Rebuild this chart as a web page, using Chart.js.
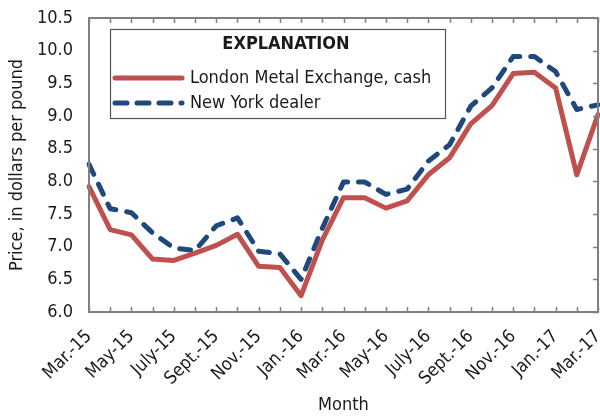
<!DOCTYPE html>
<html>
<head>
<meta charset="utf-8">
<script src="https://cdn.jsdelivr.net/npm/chart.js@4.4.1/dist/chart.umd.min.js"></script>
<style>
  html, body { margin: 0; padding: 0; background: #ffffff; }
  #wrap { width: 600px; height: 416px; position: relative; }
</style>
</head>
<body>
<div id="wrap"><canvas id="c" width="600" height="416"></canvas></div>
<script>
const months = ["Mar.-15","Apr.-15","May-15","June-15","July-15","Aug.-15","Sept.-15","Oct.-15","Nov.-15","Dec.-15",
  "Jan.-16","Feb.-16","Mar.-16","Apr.-16","May-16","June-16","July-16","Aug.-16","Sept.-16","Oct.-16","Nov.-16","Dec.-16",
  "Jan.-17","Feb.-17","Mar.-17"];
const tickLabels = ["Mar.-15","May-15","July-15","Sept.-15","Nov.-15","Jan.-16","Mar.-16","May-16","July-16","Sept.-16","Nov.-16","Jan.-17","Mar.-17"];
const lmeCash = [7.92,7.26,7.18,6.81,6.79,6.90,7.02,7.19,6.70,6.68,6.25,7.10,7.75,7.75,7.59,7.70,8.10,8.36,8.88,9.16,9.65,9.67,9.43,8.10,9.02];
const nyDealer = [8.26,7.58,7.52,7.21,6.98,6.94,7.32,7.44,6.93,6.89,6.50,7.28,7.99,7.99,7.80,7.88,8.31,8.56,9.15,9.43,9.91,9.91,9.68,9.10,9.17];
const seriesNames = ["London Metal Exchange, cash", "New York dealer"];
const legendTitle = "EXPLANATION";

const FONT = "'Liberation Sans Narrow', 'DejaVu Sans Condensed', 'Arial Narrow', sans-serif";
const RED = "#C0504D";
const BLUE = "#1F497D";
const AXIS = "#808080";
const TEXT = "#1a1a1a";

const framePlugin = {
  id: 'frame',
  afterDatasetsDraw(chart) {
    const ctx = chart.ctx;
    const a = chart.chartArea;
    const xs = chart.scales.x, ys = chart.scales.y;
    ctx.save();
    ctx.strokeStyle = AXIS;
    ctx.lineWidth = 1.5;
    ctx.beginPath();
    for (let i = 0; i < months.length; i++) {
      const px = Math.round(xs.getPixelForValue(i)) + 0.5;
      ctx.moveTo(px, a.bottom); ctx.lineTo(px, a.bottom - 5);
      ctx.moveTo(px, a.top); ctx.lineTo(px, a.top + 5);
    }
    ys.ticks.forEach(t => {
      const py = Math.round(ys.getPixelForValue(t.value)) + 0.5;
      ctx.moveTo(a.right, py); ctx.lineTo(a.right - 5, py);
    });
    ctx.stroke();
    ctx.lineWidth = 2;
    ctx.strokeRect(a.left, a.top, a.right - a.left, a.bottom - a.top);

    // legend box
    const bx = a.left + 21, by = a.top + 11, bw = 335, bh = 89;
    ctx.fillStyle = '#ffffff';
    ctx.fillRect(bx, by, bw, bh);
    ctx.strokeStyle = '#555555';
    ctx.lineWidth = 1.2;
    ctx.strokeRect(bx + 0.5, by + 0.5, bw, bh);
    ctx.fillStyle = TEXT;
    ctx.textBaseline = 'middle';
    ctx.textAlign = 'center';
    ctx.font = "bold 18px " + FONT;
    ctx.fillText(legendTitle, bx + 176, by + 15);
    ctx.textAlign = 'left';
    ctx.font = "18px " + FONT;
    const items = [
      { name: seriesNames[0], color: RED, dash: [], y: by + 49 },
      { name: seriesNames[1], color: BLUE, dash: [12, 10], y: by + 74 }
    ];
    items.forEach(it => {
      ctx.save();
      ctx.strokeStyle = it.color;
      ctx.lineWidth = 5;
      ctx.lineCap = 'round';
      ctx.setLineDash(it.dash);
      ctx.beginPath();
      ctx.moveTo(bx + 5, it.y);
      ctx.lineTo(bx + 72, it.y);
      ctx.stroke();
      ctx.restore();
      ctx.fillStyle = TEXT;
      ctx.fillText(it.name, bx + 80, it.y);
    });
    ctx.restore();
  }
};

new Chart(document.getElementById('c'), {
  type: 'line',
  data: {
    labels: months,
    datasets: [
      { label: seriesNames[0], data: lmeCash, borderColor: RED, backgroundColor: RED, borderWidth: 5,
        pointRadius: 0, tension: 0, borderCapStyle: 'round', borderJoinStyle: 'round', fill: false },
      { label: seriesNames[1], data: nyDealer, borderColor: BLUE, backgroundColor: BLUE, borderWidth: 5,
        borderDash: [11, 11], borderCapStyle: 'round', borderJoinStyle: 'round',
        pointRadius: 0, tension: 0, fill: false }
    ]
  },
  options: {
    responsive: false,
    animation: false,
    devicePixelRatio: 1,
    layout: { padding: { top: 18, right: 2, left: 0, bottom: 0 } },
    plugins: { legend: { display: false }, tooltip: { enabled: false } },
    scales: {
      x: {
        type: 'category',
        offset: false,
        grid: { display: false, drawTicks: false },
        border: { display: false },
        ticks: {
          autoSkip: false, maxRotation: 45, minRotation: 45, padding: 14,
          color: TEXT, font: { family: FONT, size: 18 },
          callback: function(v, i) { return tickLabels.includes(months[i]) ? months[i] : ''; }
        },
        title: { display: true, text: 'Month', color: TEXT, font: { family: FONT, size: 18 }, padding: { top: 8, bottom: 0 } },
        afterFit: s => { s.height = 104; s.paddingLeft = 0; s.paddingRight = 0; }
      },
      y: {
        min: 6, max: 10.5,
        grid: { display: false, drawTicks: false },
        border: { display: false },
        ticks: { stepSize: 0.5, padding: 16, color: TEXT, font: { family: FONT, size: 18 },
          callback: v => Number(v).toFixed(1) },
        title: { display: true, text: 'Price, in dollars per pound', color: TEXT, font: { family: FONT, size: 18 }, padding: { top: 7, bottom: 4 } },
        afterFit: s => { s.width = 89; s.paddingTop = 0; s.paddingBottom = 0; }
      }
    }
  },
  plugins: [framePlugin]
});
</script>
</body>
</html>
